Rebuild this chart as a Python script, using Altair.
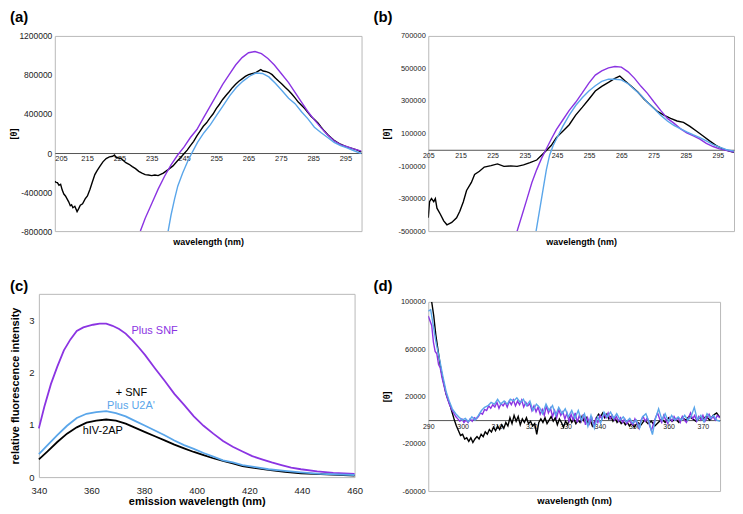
import altair as alt
import pandas as pd

FONT = "Liberation Sans"
PURPLE = "#8b34e2"
BLUE = "#5aa6ea"
BLACK = "#000000"

# ---------------- panel (a) ----------------
a_black_wl = [205, 205.4, 205.8, 206.3, 206.8, 207.3, 207.8, 208.3, 208.8, 209.3, 209.8, 210.2, 210.6, 211.2, 211.9, 212.4, 212.9, 213.6, 214.4, 215.1, 215.9, 216.6, 217.4, 218.1, 218.9, 219.9, 220.9, 221.9, 222.9, 223.5, 224, 225.5, 227, 228, 229, 230, 231, 232, 233, 234, 235, 236, 237, 238.6, 240, 241.6, 243, 244, 245, 246, 247, 248, 249, 250, 251, 252, 253, 254, 255, 256, 257, 258, 259, 260, 261, 262, 263, 264, 265, 266, 267, 268, 268.8, 269.5, 270.3, 271.3, 272.3, 273.3, 274.3, 275.4, 276.4, 277.4, 278.4, 279.4, 280.4, 281.4, 282.4, 283.4, 284.4, 285.5, 286.5, 287.5, 288.5, 289.5, 290.5, 291.5, 292.5, 293.5, 294.5, 295.5, 296.5, 297.5, 298.5, 300]
a_black_val = [-290000, -300000, -304000, -330000, -320000, -380000, -420000, -440000, -470000, -500000, -540000, -530000, -560000, -545000, -600000, -570000, -535000, -520000, -470000, -440000, -370000, -300000, -221000, -180000, -139000, -90000, -56000, -40000, -33000, -20000, -46000, -56000, -99000, -115000, -139000, -160000, -188000, -205000, -221000, -225000, -231000, -225000, -231000, -205000, -172000, -132000, -79000, -45000, -7000, 30000, 76000, 120000, 175000, 225000, 274000, 310000, 357000, 400000, 456000, 500000, 549000, 590000, 628000, 670000, 704000, 735000, 760000, 785000, 803000, 812000, 820000, 840000, 855000, 840000, 836000, 825000, 803000, 770000, 737000, 705000, 671000, 640000, 605000, 565000, 522000, 490000, 456000, 415000, 374000, 340000, 307000, 265000, 225000, 190000, 159000, 130000, 109000, 90000, 76000, 63000, 53000, 42000, 33000, 10000]

a_purple_wl = [231.5, 233, 235, 237, 239, 241, 243, 245, 247, 249, 251, 253, 255, 257, 259, 261, 263, 265, 267, 269, 271, 273, 275, 277.4, 279.4, 281.4, 283.4, 285.4, 287.5, 289.5, 291.5, 293.5, 295.5, 297.5, 300]
a_purple_val = [-800000, -668000, -519000, -370000, -238000, -122000, -23000, 60000, 159000, 241000, 357000, 473000, 588000, 704000, 803000, 902000, 978000, 1028000, 1040000, 1018000, 969000, 902000, 820000, 721000, 621000, 522000, 423000, 340000, 258000, 185000, 126000, 86000, 66000, 43000, 20000]

a_blue_wl = [240.1, 241, 242.1, 243.1, 244.6, 246.1, 247.6, 249.2, 251.2, 253.2, 255.2, 257.2, 259.2, 261.2, 263.3, 265.3, 267.3, 269.3, 271.3, 273.3, 275.4, 277.4, 279.4, 281.4, 283.4, 285.4, 287.5, 289.5, 291.5, 293.5, 295.5, 297.5, 299.5, 300]
a_blue_val = [-800000, -635000, -469000, -337000, -205000, -89000, 10000, 109000, 208000, 291000, 390000, 489000, 588000, 671000, 737000, 787000, 820000, 815000, 780000, 714000, 638000, 562000, 506000, 423000, 350000, 264000, 208000, 159000, 109000, 76000, 53000, 26000, 0, -5000]

# ---------------- panel (b) ----------------
b_black_wl = [205, 205.4, 206, 206.7, 207.2, 207.7, 208.8, 209.8, 210.8, 212.3, 213.8, 214.8, 215.9, 216.9, 218.4, 219.4, 220.9, 222.4, 224.5, 226.5, 228.5, 230.6, 232.6, 234.6, 236.6, 238.7, 240.2, 241.7, 243.2, 244.8, 246.8, 248.8, 250.8, 252.9, 254.9, 256.9, 258.9, 261, 263, 264.5, 266, 268.1, 270.1, 272.1, 274.2, 276.2, 278.2, 280.3, 282.3, 284.3, 286.3, 288.4, 290.4, 292.4, 294.5, 296.5, 298.5, 300]
b_black_val = [-418000, -319000, -300000, -319000, -300000, -359000, -398000, -437000, -461000, -447000, -418000, -378000, -319000, -250000, -201000, -152000, -132000, -106000, -97000, -87000, -102000, -99000, -102000, -93000, -79000, -63000, -33000, -4000, 26000, 75000, 114000, 154000, 213000, 262000, 311000, 361000, 390000, 414000, 439000, 453000, 426000, 390000, 355000, 311000, 272000, 236000, 213000, 193000, 177000, 169000, 144000, 114000, 85000, 55000, 26000, 6000, -8000, -16000]

b_purple_wl = [232.6, 234.2, 235.7, 237.2, 238.7, 240.2, 241.7, 243.2, 244.8, 246.8, 248.8, 250.8, 252.9, 254.9, 256.9, 258.9, 261, 263, 265, 267.1, 269.1, 271.1, 273.1, 275.2, 277.2, 279.3, 281.3, 283.3, 285.3, 287.4, 289.4, 291.4, 293.5, 295.5, 297.5, 300]
b_purple_val = [-500000, -398000, -300000, -201000, -122000, -53000, 6000, 65000, 124000, 183000, 242000, 292000, 351000, 410000, 459000, 485000, 504000, 512000, 508000, 479000, 439000, 390000, 347000, 292000, 242000, 193000, 164000, 130000, 104000, 85000, 65000, 39000, 20000, 6000, -4000, -14000]

b_blue_wl = [238.5, 239.7, 240.7, 241.7, 242.7, 243.8, 245.3, 246.8, 248.8, 250.8, 252.9, 254.9, 256.9, 258.9, 261, 263, 265, 267.1, 269.1, 271.1, 273.1, 275.2, 277.2, 279.3, 281.3, 283.3, 285.3, 287.4, 289.4, 291.4, 293.5, 295.5, 297.5, 300]
b_blue_val = [-500000, -359000, -240000, -122000, -33000, 26000, 85000, 144000, 213000, 272000, 321000, 361000, 394000, 420000, 434000, 434000, 430000, 406000, 370000, 335000, 292000, 252000, 213000, 177000, 150000, 130000, 110000, 91000, 75000, 55000, 32000, 16000, 2000, -8000]

# ---------------- panel (c) ----------------
c_purple_wl = [340, 342.1, 344.6, 347, 349.5, 352, 354.4, 356.9, 358.2, 360.6, 363.1, 365.6, 368, 370.5, 373, 375.4, 377.9, 380.4, 384.1, 387.8, 391.5, 395.2, 398.9, 402.6, 406.3, 410, 413.7, 417.4, 421.1, 424.8, 428.5, 432.2, 435.9, 439.6, 445.8, 451.9, 460]
c_purple_val = [0.93, 1.35, 1.78, 2.11, 2.42, 2.63, 2.79, 2.86, 2.88, 2.91, 2.93, 2.93, 2.89, 2.83, 2.74, 2.62, 2.48, 2.33, 2.08, 1.84, 1.59, 1.38, 1.16, 0.98, 0.83, 0.69, 0.58, 0.49, 0.40, 0.34, 0.28, 0.23, 0.18, 0.15, 0.11, 0.08, 0.06]

c_blue_wl = [340, 343.3, 347, 350.7, 354.4, 358.1, 361.8, 365.6, 369.3, 373, 376.7, 380.4, 384.1, 387.8, 391.5, 395.2, 398.9, 402.6, 406.3, 410, 413.7, 417.4, 421.1, 427.3, 433.5, 439.6, 447, 460]
c_blue_val = [0.44, 0.61, 0.80, 0.98, 1.13, 1.21, 1.24, 1.26, 1.22, 1.16, 1.07, 0.98, 0.89, 0.80, 0.70, 0.61, 0.54, 0.46, 0.39, 0.32, 0.28, 0.23, 0.20, 0.15, 0.12, 0.09, 0.06, 0.04]

c_black_wl = [340, 343.3, 347, 350.7, 354.4, 358.1, 361.8, 365.6, 369.3, 373, 376.7, 380.4, 384.1, 387.8, 391.5, 395.2, 398.9, 402.6, 406.3, 410, 413.7, 417.4, 421.1, 427.3, 433.5, 439.6, 447, 460]
c_black_val = [0.34, 0.49, 0.67, 0.83, 0.95, 1.04, 1.08, 1.10, 1.08, 1.02, 0.94, 0.86, 0.78, 0.70, 0.62, 0.55, 0.48, 0.42, 0.36, 0.31, 0.26, 0.21, 0.18, 0.14, 0.10, 0.07, 0.055, 0.03]

c_labels = ["Plus SNF", "+ SNF", "Plus U2A'", "hIV-2AP"]
c_label_wl = [384, 375.2, 375, 364.3]
c_label_val = [2.79, 1.60, 1.36, 0.88]
c_label_color = [PURPLE, BLACK, BLUE, BLACK]

# ---------------- panel (d) ----------------
d_black_wl = [291.0, 291.6, 292.2, 292.8, 293.4, 294.0, 294.6, 295.2, 295.8, 296.4, 297.0, 297.6, 298.2, 298.8, 299.4, 300.0, 300.6, 301.2, 301.8, 302.4, 303.0, 303.6, 304.2, 304.8, 305.4, 306.0, 306.6, 307.2, 307.8, 308.4, 309.0, 309.6, 310.2, 310.8, 311.4, 312.0, 312.6, 313.2, 313.8, 314.4, 315.0, 315.6, 316.2, 316.8, 317.4, 318.0, 318.6, 319.2, 319.8, 320.4, 321.0, 321.6, 322.2, 322.8, 323.4, 324.0, 324.6, 325.2, 325.8, 326.4, 327.0, 327.6, 328.2, 328.8, 329.4, 330.0, 330.6, 331.2, 331.8, 332.4, 333.0, 333.6, 334.2, 334.8, 335.4, 336.0, 336.6, 337.2, 337.8, 338.4, 339.0, 339.6, 340.2, 340.8, 341.4, 342.0, 342.6, 343.2, 343.8, 344.4, 345.0, 345.6, 346.2, 346.8, 347.4, 348.0, 348.6, 349.2, 350.0, 351.0, 352.0, 353.0, 354.0, 355.0, 356.0, 357.0, 358.0, 359.0, 360.0, 361.0, 362.0, 363.0, 364.0, 365.0, 366.0, 367.0, 368.0, 369.0, 370.0, 371.0, 372.0, 373.0, 374.0, 375.0]
d_black_val = [100000, 88000, 72000, 60000, 48000, 38000, 30000, 22000, 17000, 12000, 6000, 0, -5000, -9000, -13000, -12000, -16000, -15000, -18000, -15000, -19000, -16000, -14000, -16000, -12000, -14000, -10000, -12000, -8000, -10000, -6000, -9000, -5000, -8000, -4000, -7000, -2000, -5000, 2000, -3000, 4000, -1000, 3000, -4000, 1000, -2000, 2000, -3000, -1000, -5000, -3000, -12000, -2000, 1000, -2000, 2000, -3000, 0, 3000, -1000, 2000, -4000, 1000, -2000, -6000, -1000, -4000, 2000, -2000, 1000, -3000, 0, -2000, 3000, -1000, 2000, -3000, 0, -5000, -2000, 2000, 5000, 3000, 6000, 2000, 5000, 1000, 3000, -1000, 2000, -2000, 0, -3000, -1000, -4000, -2000, -5000, -3000, -6000, -2000, -4000, 0, -3000, -1000, -5000, -2000, 1000, -2000, 2000, -1000, 1000, -2000, 2000, 0, 3000, 1000, -1000, 2000, 1000, 3000, 0, 4000, 6000, 2000]

d_purple_wl = [290.0, 290.5, 291.0, 291.5, 292.0, 292.5, 293.0, 293.5, 294.0, 294.5, 295.0, 295.6, 296.2, 296.8, 297.4, 298.0, 298.6, 299.2, 299.8, 300.4, 301.0, 301.6, 302.2, 302.8, 303.4, 304.0, 304.6, 305.2, 305.8, 306.4, 307.0, 307.6, 308.2, 308.8, 309.4, 310.0, 310.6, 311.2, 311.8, 312.4, 313.0, 313.6, 314.2, 314.8, 315.4, 316.0, 316.6, 317.2, 317.8, 318.4, 319.0, 319.6, 320.2, 320.8, 321.4, 322.0, 322.6, 323.2, 323.8, 324.4, 325.0, 325.6, 326.2, 326.8, 327.4, 328.0, 328.6, 329.2, 329.8, 330.4, 331.0, 331.6, 332.2, 332.8, 333.4, 334.0, 334.6, 335.2, 335.8, 336.4, 337.0, 337.6, 338.2, 338.8, 339.4, 340.0, 340.6, 341.2, 341.8, 342.4, 343.0, 343.6, 344.2, 344.8, 345.4, 346.0, 346.6, 347.2, 347.8, 348.4, 349.0, 349.6, 350.2, 350.8, 351.4, 352.0, 352.6, 353.2, 353.8, 354.4, 355.0, 355.6, 356.2, 356.8, 357.4, 358.0, 358.6, 359.2, 359.8, 360.4, 361.0, 361.6, 362.2, 362.8, 363.4, 364.0, 364.6, 365.2, 365.8, 366.4, 367.0, 367.6, 368.2, 368.8, 369.4, 370.0, 370.6, 371.2, 371.8, 372.4, 373.0, 373.6, 374.2, 375.0]
d_purple_val = [88000, 84000, 80000, 66000, 58000, 56000, 47000, 44000, 36000, 30000, 24000, 18000, 13000, 9000, 6000, 3000, 1000, -1000, 1000, -2000, 0, -2000, 1000, -1000, 2000, 1000, 3000, 6000, 5000, 9000, 8000, 12000, 10000, 13000, 11000, 15000, 10000, 14000, 12000, 15000, 11000, 16000, 13000, 17000, 12000, 16000, 13000, 17000, 11000, 15000, 12000, 14000, 8000, 12000, 7000, 11000, 5000, 9000, 4000, 12000, 6000, 10000, 3000, 8000, 2000, 9000, 4000, 7000, 1000, 6000, -1000, 5000, 0, 6000, -2000, 4000, -1000, 5000, -4000, 2000, -3000, 3000, -6000, 1000, -2000, 4000, 1000, 5000, 2000, 6000, 1000, 4000, 0, 3000, -1000, 2000, -2000, 1000, -3000, 0, -2000, -4000, 1000, -3000, -7000, 0, 3000, -1000, 2000, -4000, -9000, -3000, 2000, 6000, 1000, -2000, 4000, 0, -3000, 2000, -1000, 3000, 0, 2000, -2000, 3000, 0, -2000, 2000, 6000, 1000, 4000, -1000, 3000, 0, 4000, -1000, 2000, 5000, 1000, 3000, 0, 4000, 2000]

d_blue_wl = [290.0, 290.7, 291.4, 292.3, 293.3, 294.2, 295.2, 296.1, 297.0, 298.0, 298.9, 299.9, 300.8, 301.7, 302.7, 303.6, 304.6, 305.5, 306.4, 307.4, 308.3, 309.3, 310.2, 311.1, 312.1, 313.0, 313.9, 314.9, 315.8, 316.8, 317.7, 318.6, 319.6, 320.5, 321.5, 322.4, 323.3, 324.3, 325.2, 326.2, 327.1, 328.0, 329.0, 329.9, 330.8, 331.8, 332.7, 333.7, 334.6, 335.5, 336.5, 337.4, 338.4, 339.3, 340.2, 341.2, 342.1, 343.1, 344.0, 344.9, 345.9, 346.8, 347.7, 348.7, 349.6, 350.6, 351.5, 352.4, 353.4, 354.3, 355.3, 356.2, 357.1, 358.1, 359.0, 360.0, 360.9, 361.8, 362.8, 363.7, 364.7, 365.6, 366.5, 367.5, 368.4, 369.4, 370.3, 371.2, 372.2, 373.1, 374.0, 375.0]
d_blue_val = [92000, 93400, 81000, 65000, 51400, 37900, 24300, 16200, 9500, 5400, 2700, 0, 1400, -1400, 2700, 0, 4000, 8100, 10800, 12200, 14900, 13500, 17600, 13500, 16200, 13500, 17600, 16200, 18900, 14900, 17600, 12200, 16200, 8100, 13500, 10800, 5400, 13500, 8100, 12200, 4000, 10800, 5400, 9500, 2700, 8100, 1400, 8100, 0, 5400, -5400, 4000, -6800, 2700, -2700, 6800, 2700, 6800, 1400, 5400, 0, 2700, -1400, 1400, -2700, 0, -6800, 2700, 5400, -1400, -12200, 1400, 9500, 0, 5400, -1400, 4000, 0, 2700, 0, 4000, 0, 2700, 10800, 0, 4000, -1400, 5400, 1400, 4000, 0, -1000]


def long_df(series):
    rows = []
    for name, wls, vals in series:
        for x, y in zip(wls, vals):
            rows.append({"s": name, "wl": x, "v": y})
    return pd.DataFrame(rows)


color_scale = alt.Scale(domain=["black", "purple", "blue"], range=[BLACK, PURPLE, BLUE])


def panel_title(letter, offset, dx=0):
    return alt.TitleParams(text=letter, anchor="start", frame="bounds", fontSize=15,
                           fontWeight="bold", font=FONT, color="black", offset=offset, dx=dx)


def cd_panel(df, xdom, xticks, ydom, yticks, w, h, letter, xfs, yfs, tfs, flush,
             yext, toff, tdx, xgap, ytpad):
    zero_off = h * (0 - ydom[0]) / (ydom[1] - ydom[0])
    xext = 10
    xaxis = alt.Axis(values=xticks, offset=-zero_off, title="wavelength (nm)",
                     titleFontSize=tfs, titleFontWeight="bold", titleFont=FONT,
                     titlePadding=zero_off + xgap - xext, minExtent=xext, maxExtent=xext,
                     labelFontSize=xfs, labelFont=FONT, labelFlush=flush, labelPadding=2,
                     ticks=False, grid=False, domainColor="#555555", labelColor="#222222",
                     labelOverlap=False, titleColor="black")
    yaxis = alt.Axis(values=yticks, title="[θ]", labelExpr="toString(datum.value)",
                     titleFontSize=9, titleFontWeight="bold", titleFont=FONT,
                     titlePadding=ytpad, minExtent=yext, maxExtent=yext,
                     labelFontSize=yfs, labelFont=FONT, labelPadding=3, ticks=False,
                     grid=False, domain=False, labelColor="#222222", labelOverlap=False,
                     titleColor="black")
    return alt.Chart(df).mark_line(strokeWidth=1.4, clip=True).encode(
        x=alt.X("wl:Q", scale=alt.Scale(domain=xdom, nice=False, zero=False), axis=xaxis),
        y=alt.Y("v:Q", scale=alt.Scale(domain=ydom, nice=False, zero=False), axis=yaxis),
        color=alt.Color("s:N", scale=color_scale, legend=None),
        strokeWidth=alt.StrokeWidth("s:N", scale=alt.Scale(domain=["black", "purple", "blue"], range=[1.8, 1.4, 1.4]), legend=None),
    ).properties(width=w, height=h, title=panel_title(letter, toff, tdx))


def spacer():
    return alt.Chart(pd.DataFrame({"z": [0]})).mark_point(size=0, opacity=0).encode(
        x=alt.X("z:Q", axis=None), y=alt.Y("z:Q", axis=None)
    ).properties(width=1, height=1, view=alt.ViewBackground(strokeOpacity=0))


df_a = long_df([("black", a_black_wl, a_black_val), ("purple", a_purple_wl, a_purple_val), ("blue", a_blue_wl, a_blue_val)])
df_b = long_df([("black", b_black_wl, b_black_val), ("purple", b_purple_wl, b_purple_val), ("blue", b_blue_wl, b_blue_val)])
df_d = long_df([("black", d_black_wl, d_black_val), ("purple", d_purple_wl, d_purple_val), ("blue", d_blue_wl, d_blue_val)])
df_c = long_df([("black", c_black_wl, c_black_val), ("purple", c_purple_wl, c_purple_val), ("blue", c_blue_wl, c_blue_val)])
df_c_lab = pd.DataFrame({"t": c_labels, "wl": c_label_wl, "v": c_label_val, "col": c_label_color})

panel_a = cd_panel(df_a, [205, 300], list(range(205, 300, 10)), [-800000, 1200000],
                   [-800000, -400000, 0, 400000, 800000, 1200000], 308, 196, "(a)",
                   7.5, 8.5, 9, True, 35, 7, 0, 6, 1)
panel_b = cd_panel(df_b, [205, 300], list(range(205, 300, 10)), [-500000, 700000],
                   [-500000, -300000, -100000, 100000, 300000, 500000, 700000], 307, 196, "(b)",
                   7, 7.5, 9, False, 34, 7, -9, 6, 3)
panel_d = cd_panel(df_d, [290, 375], list(range(290, 375, 10)), [-60000, 100000],
                   [-60000, -20000, 20000, 60000, 100000], 293, 190, "(d)",
                   7, 7.5, 9.5, False, 34, 4, -9, 5, 3)

c_lines = alt.Chart(df_c).mark_line(strokeWidth=1.8).encode(
    x=alt.X("wl:Q", scale=alt.Scale(domain=[340, 460], nice=False, zero=False),
            axis=alt.Axis(values=list(range(340, 461, 20)), title="emission wavelength (nm)",
                          titleFontSize=11, titleFontWeight="bold", titleFont=FONT, titlePadding=1,
                          labelFontSize=9.5, labelFont=FONT, labelPadding=8, labelFlush=False,
                          ticks=False, grid=False, domain=False, labelColor="#222222",
                          titleColor="black")),
    y=alt.Y("v:Q", scale=alt.Scale(domain=[0, 3.5], nice=False, zero=False),
            axis=alt.Axis(values=[0, 1, 2, 3], format="d", title="relative fluorescence intensity",
                          titleFontSize=11, titleFontWeight="bold", titleFont=FONT, titlePadding=7,
                          minExtent=11, maxExtent=11, labelFontSize=9.5, labelFont=FONT,
                          labelPadding=5, ticks=False, grid=False, domain=False,
                          labelColor="#222222", titleColor="black")),
    color=alt.Color("s:N", scale=color_scale, legend=None),
)
c_text = alt.Chart(df_c_lab).mark_text(fontSize=11, font=FONT).encode(
    x="wl:Q", y="v:Q", text="t:N", color=alt.Color("col:N", scale=None),
)
panel_c = alt.layer(c_lines, c_text).properties(width=317, height=184, title=panel_title("(c)", 0))

w_a = alt.hconcat(spacer(), panel_a, spacing=0)
w_c = alt.hconcat(spacer(), panel_c, spacing=0)
col1 = alt.vconcat(w_a, w_c, spacing=31)
col2 = alt.vconcat(panel_b, panel_d, spacing=31)
chart = alt.hconcat(col1, col2, spacing=9).properties(padding=0).configure(font=FONT).configure_view(
    stroke="#b8b8b8", strokeWidth=1)

chart.save("out.html", embed_options={"renderer": "svg", "actions": False})
